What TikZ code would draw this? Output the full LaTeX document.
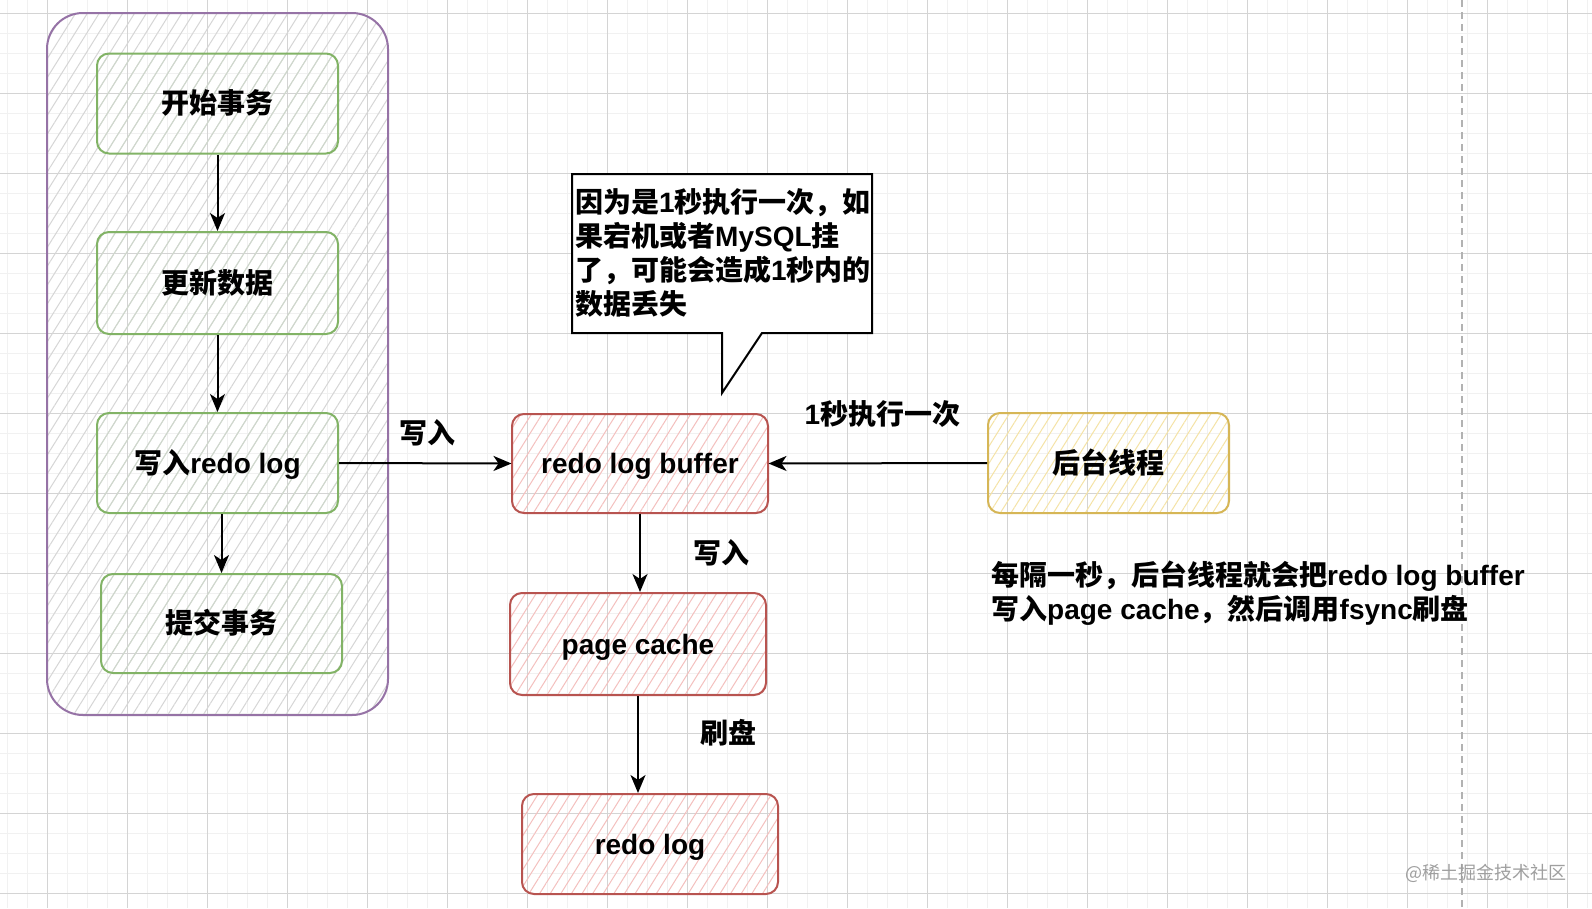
\documentclass[tikz,border=0pt]{standalone}
\usepackage{fontspec}
\setmainfont{Noto Sans CJK SC}
\newfontfamily\latfont{Liberation Sans}
\usetikzlibrary{arrows.meta,patterns.meta}
\newcommand\latn[1]{{\latfont\bfseries #1}}
\definecolor{purp}{HTML}{9673A6}
\definecolor{grn}{HTML}{82B366}
\definecolor{rd}{HTML}{B85450}
\definecolor{ylw}{HTML}{D6B656}
\definecolor{hgrey}{HTML}{D6D6D6}
\definecolor{hgreen}{HTML}{CFD8CC}
\definecolor{hred}{HTML}{F4C0BE}
\definecolor{hyel}{HTML}{F5E3A6}
\definecolor{gmajor}{HTML}{D4D4D4}
\definecolor{gminor}{HTML}{F1F1F1}
\begin{document}
\begin{tikzpicture}[x=1pt,y=-1pt,
  txt/.style={font=\bfseries\fontsize{28}{34}\selectfont, text=black},
  box/.style={draw, line width=2pt, rounded corners=12pt, inner sep=0pt, txt,
     text height=26pt, text depth=6pt},
  gbox/.style={box, draw=grn, minimum width=241pt, minimum height=100pt,
     pattern={Lines[angle=58,distance=10pt,line width=1pt]}, pattern color=hgreen},
  rbox/.style={box, draw=rd, minimum width=256pt, minimum height=100pt,
     pattern={Lines[angle=58,distance=9pt,line width=1pt]}, pattern color=hred},
  ybox/.style={box, draw=ylw, minimum width=241pt, minimum height=100pt,
     pattern={Lines[angle=58,distance=9pt,line width=1pt]}, pattern color=hyel},
  arr/.style={-{Stealth[length=18pt,width=15pt,inset=5pt]}, line width=2pt, black},
  lbl/.style={txt, inner sep=0pt},
]
\useasboundingbox (0,0) rectangle (1592,908);
% background grid
\fill[white] (0,0) rectangle (1592,908);
\foreach \x in {7,27,...,1591} \draw[gminor, line width=1pt] (\x,0) -- (\x,908);
\foreach \y in {13,33,...,907} \draw[gminor, line width=1pt] (0,\y) -- (1592,\y);
\foreach \x in {47,127,...,1591} \draw[gmajor, line width=1pt] (\x,0) -- (\x,908);
\foreach \y in {13,93,...,907} \draw[gmajor, line width=1pt] (0,\y) -- (1592,\y);
\draw[gray!60, line width=2pt, dash pattern=on 7pt off 5pt] (1462,0) -- (1462,908);

% group container
\node[draw=purp, line width=2pt, rounded corners=36pt, minimum width=341pt, minimum height=702pt,
  pattern={Lines[angle=58,distance=10pt,line width=1pt]}, pattern color=hgrey] (grp) at (217.5,364) {};

% green steps
\node[gbox] (s1) at (217.5,103.5) {开始事务};
\node[gbox, minimum height=102pt] (s2) at (217.5,283) {更新数据};
\node[gbox] (s3) at (217.5,463) {写入\latn{redo log}};
\node[gbox, minimum height=99pt] (s4) at (221.5,623.5) {提交事务};

% red boxes
\node[rbox, minimum height=99pt] (rb) at (640,463.5) {\latn{redo log buffer}};
\node[rbox, minimum height=102pt] (pc) at (638,644) {\latn{page cache}};
\node[rbox] (rl) at (650,844) {\latn{redo log}};

% yellow box
\node[ybox] (bg) at (1108.5,463) {后台线程};

% connectors
\draw[arr] (s1.south) -- (s2.north);
\draw[arr] (s2.south) -- (s3.north);
\draw[arr] (s3.south -| s4.north) -- (s4.north);
\draw[arr] (s3.east) -- (rb.west);
\draw[arr] (bg.west) -- (rb.east);
\draw[arr] (rb.south) -- (rb.south |- pc.north);
\draw[arr] (pc.south) -- (pc.south |- rl.north);

% labels
\node[lbl] (l1) at (427.5,433) {写入};
\node[lbl] (l2) at (882.5,414) {\latn{1}秒执行一次};
\node[lbl] (l3) at (721.5,553) {写入};
\node[lbl] (l4) at (728,733) {刷盘};

% callout
\coordinate (c1) at (572,174);
\coordinate (c2) at (872,174);
\coordinate (c3) at (872,333);
\coordinate (c4) at (762,333);
\coordinate (ctip) at (722,393);
\coordinate (c5) at (722,333);
\coordinate (c6) at (572,333);
\draw[fill=white, line width=2pt, line join=miter] (c1) -- (c2) -- (c3) -- (c4) -- (ctip) -- (c5) -- (c6) -- cycle;
\node[lbl, anchor=north west, align=left] (note) at (575,188)
  {因为是\latn{1}秒执行一次，如\\果宕机或者\latn{MySQL}挂\\了，可能会造成\latn{1}秒内的\\数据丢失};

% description
\node[lbl, anchor=north west, align=left] (desc) at (991,561)
  {每隔一秒，后台线程就会把\latn{redo log buffer}\\写入\latn{page cache}，然后调用\latn{fsync}刷盘};

% watermark
\node[font=\fontsize{18}{20}\selectfont, text=gray!75, inner sep=0pt, anchor=east] (wm) at (1567,873) {@稀土掘金技术社区};
\end{tikzpicture}
\end{document}
